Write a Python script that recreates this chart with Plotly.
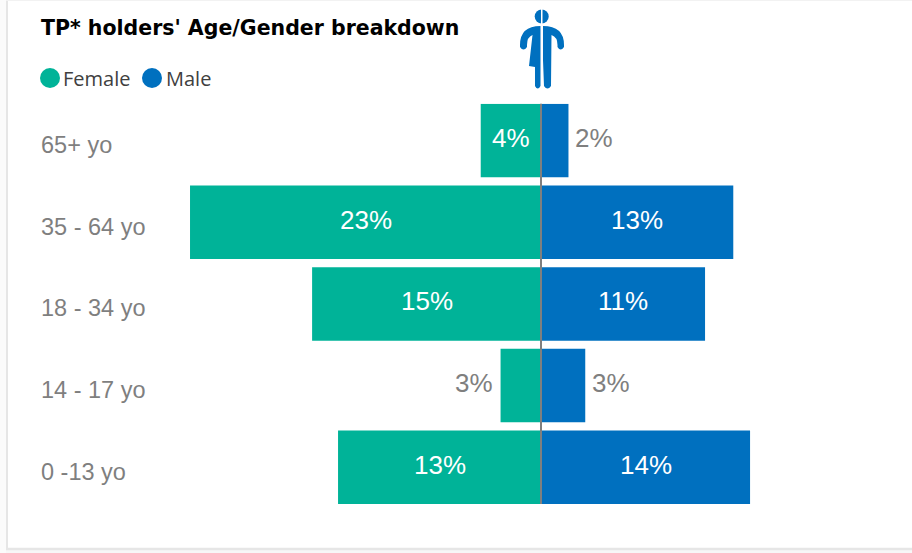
import plotly.graph_objects as go

categories = ["0 -13 yo", "14 - 17 yo", "18 - 34 yo", "35 - 64 yo", "65+ yo"]
female = [13.3, 2.65, 15.0, 23.0, 3.95]
male = [13.7, 2.9, 10.75, 12.6, 1.8]
female_labels = ["13%", "3%", "15%", "23%", "4%"]
male_labels = ["14%", "3%", "11%", "13%", "2%"]
title = "TP* holders' Age/Gender breakdown"
series_names = ["Female", "Male"]

W, H = 912, 553
GREEN, BLUE, GREY = "#00B398", "#0070BF", "#7F7F7F"
def px(v): return v / W
def py(v): return 1 - v / H

fig = go.Figure()
fig.add_bar(y=categories, x=[-v for v in female], orientation="h", marker=dict(color=GREEN, line_width=0),
            name=series_names[0], showlegend=False, hoverinfo="skip")
fig.add_bar(y=categories, x=male, orientation="h", marker=dict(color=BLUE, line_width=0),
            name=series_names[1], showlegend=False, hoverinfo="skip")

annotations = []
def label(x, y, text, color, anchor="center", xshift=0):
    annotations.append(dict(x=x, y=y, xref="x", yref="y", text=text, showarrow=False, xanchor=anchor, xshift=xshift,
                            yshift=2.5, font=dict(family="Liberation Sans", size=26, color=color)))
for c, f, m, fl, ml in zip(categories, female, male, female_labels, male_labels):
    if f >= 3.5:
        label(-f / 2, c, fl, "white")
    else:
        label(-f, c, fl, GREY, "right", -6)
    if m >= 5:
        label(m / 2, c, ml, "white")
    else:
        label(m, c, ml, GREY, "left", 5)

for c in categories:
    annotations.append(dict(x=px(38.5), xref="paper", y=c, yref="y", text=c, showarrow=False, xanchor="left", yshift=-4.5,
                            font=dict(family="Liberation Sans", size=23.5, color=GREY)))

annotations.append(dict(x=px(39), y=py(28), xref="paper", yref="paper", text="<b>" + title + "</b>", showarrow=False,
                        xanchor="left", yanchor="middle", font=dict(family="DejaVu Sans", size=20.5, color="black")))
annotations.append(dict(x=px(61), y=py(78), xref="paper", yref="paper", text=series_names[0], showarrow=False,
                        xanchor="left", yanchor="middle", font=dict(family="Open Sans", size=20, color="#404040")))
annotations.append(dict(x=px(164), y=py(78), xref="paper", yref="paper", text=series_names[1], showarrow=False,
                        xanchor="left", yanchor="middle", font=dict(family="Open Sans", size=20, color="#404040")))

def pline(x0, y0, x1, y1, color, width):
    return dict(type="line", xref="paper", yref="paper", x0=px(x0), y0=py(y0), x1=px(x1), y1=py(y1),
                line=dict(color=color, width=width))
def circle(cx, cy, r, color):
    return dict(type="circle", xref="paper", yref="paper", x0=px(cx - r), x1=px(cx + r), y0=py(cy - r), y1=py(cy + r),
                fillcolor=color, line_width=0)
def pt(x, y): return f"{px(x):.5f},{py(y):.5f}"
def path(d, color):
    return dict(type="path", xref="paper", yref="paper", path=d, fillcolor=color, line_width=0)

# left (dress) half of the pictogram
left_half = (f"M{pt(540.5, 26)} Q{pt(520, 26)} {pt(520, 45)} L{pt(520, 47)} Q{pt(523.5, 52)} {pt(527, 47)} "
             f"L{pt(527, 45)} Q{pt(527, 37)} {pt(532.5, 35)} L{pt(529, 66)} L{pt(535, 67)} L{pt(535, 86)} "
             f"Q{pt(537.7, 91)} {pt(540.5, 86)} Z")
# right (trouser) half
right_half = (f"M{pt(543, 26)} Q{pt(564, 26)} {pt(564, 45)} L{pt(564, 47)} Q{pt(560.5, 52)} {pt(557.5, 47)} "
              f"L{pt(557.5, 45)} Q{pt(557.5, 37)} {pt(551.5, 35)} L{pt(551, 86)} Q{pt(547.5, 91)} {pt(544, 86)} "
              f"L{pt(543, 60)} Z")

shapes = [
    dict(type="rect", xref="paper", yref="paper", x0=0, x1=1, y0=0, y1=py(550), fillcolor="#F7F7F7", line_width=0),
    dict(type="rect", xref="paper", yref="paper", x0=0, x1=px(6), y0=0, y1=1, fillcolor="#FBFBFB", line_width=0),
    pline(7, 0, 7, 549, "#E6E6E6", 2),
    pline(6, 549, 912, 549, "#E6E6E6", 2.5),
    pline(6, 0.5, 912, 0.5, "#F2F2F2", 1),
    circle(50, 78, 10, GREEN),
    circle(152, 78, 10, BLUE),
    circle(541.7, 16.5, 7, BLUE),
    dict(type="rect", xref="paper", yref="paper", x0=px(541), x1=px(542.5), y0=py(8), y1=py(26), fillcolor="white", line_width=0),
    path(left_half, BLUE),
    path(right_half, BLUE),
    dict(type="line", xref="x", yref="y domain", x0=0, x1=0, y0=0, y1=1, line=dict(color=GREY, width=2), layer="above"),
]

fig.update_layout(
    width=W, height=H, margin=dict(l=0, r=0, t=0, b=0), paper_bgcolor="white", plot_bgcolor="white",
    barmode="overlay", bargap=0.1, font=dict(family="Liberation Sans"),
    xaxis=dict(domain=[0, 1], range=[-541 / 15.26, (W - 541) / 15.26], visible=False, fixedrange=True),
    yaxis=dict(domain=[py(504), py(103.8)], categoryorder="array", categoryarray=categories, range=[-0.45, 4.45],
               showticklabels=False, showgrid=False, zeroline=False, showline=False, ticks="", fixedrange=True),
    shapes=shapes, annotations=annotations,
)
fig.write_html("out.html", config={"displayModeBar": False},
               post_script="document.body.style.margin='0';")
